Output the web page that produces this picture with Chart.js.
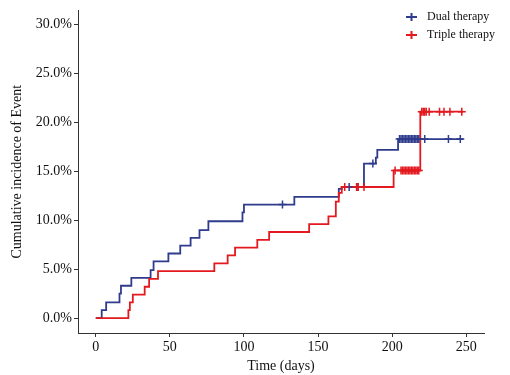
<!DOCTYPE html>
<html>
<head>
<meta charset="utf-8">
<script src="https://cdn.jsdelivr.net/npm/chart.js@4/dist/chart.umd.min.js"></script>
<style>
  html, body { margin: 0; padding: 0; background: #fff; }
  #wrap { width: 510px; height: 375px; position: relative; }
</style>
</head>
<body>
<div id="wrap"><canvas id="incChart"></canvas></div>
<script>
// event times (days) and cumulative incidence (%) for each arm
const dualTimes = [0, 4, 7, 16, 17, 24, 37, 39, 49, 57, 64, 70, 76, 99, 100, 134, 164, 166, 181, 189, 190, 204, 248];
const dualCum   = [0, 0.8, 1.6, 2.5, 3.3, 4.1, 4.9, 5.8, 6.6, 7.4, 8.2, 9.0, 9.9, 10.8, 11.6, 12.4, 13.2, 13.4, 15.8, 16.4, 17.2, 18.3, 18.3];
const dualCensor = [126, 171, 177, 187, 205, 206, 207, 208, 209, 210, 211, 212, 213, 214, 215, 216, 217, 218, 222, 238, 246];

const tripleTimes = [0, 22, 23, 25, 33, 36, 42, 80, 89, 94, 109, 117, 144, 157, 162, 164, 166, 201, 219, 248];
const tripleCum   = [0, 0.8, 1.6, 2.4, 3.2, 4.0, 4.8, 5.6, 6.4, 7.2, 8.0, 8.8, 9.6, 10.4, 11.9, 12.8, 13.4, 15.1, 21.1, 21.1];
const tripleCensor = [168, 176, 177, 181, 202, 206, 207, 208, 209, 210, 211, 212, 213, 214, 215, 216, 217, 218, 220, 221, 222, 223, 225, 232, 235, 239, 247];

const xTicks = [0, 50, 100, 150, 200, 250];
const yTicks = [0, 5, 10, 15, 20, 25, 30];

const BLUE = '#2f3b8c';
const RED = '#e3191f';
const FONT = '"Liberation Serif", "Times New Roman", serif';

// 계단 곡선 좌표
function stepPoints(times, cum) {
    return times.map((t, i) => ({ x: t, y: cum[i] }));
}

// censor 시점의 곡선 높이
function censorPoints(times, cum, censor) {
    return censor.map(t => {
        let k = 0;
        for (let i = 0; i < times.length; i++) if (times[i] <= t) k = i;
        return { x: t, y: cum[k] };
    });
}

// 오른쪽 위 범례 (선 + 십자)
const crossLegend = {
    id: 'crossLegend',
    afterDraw(chart) {
        const ctx = chart.ctx;
        const items = [
            { label: 'Dual therapy', color: BLUE, y: 17 },
            { label: 'Triple therapy', color: RED, y: 35 },
        ];
        ctx.save();
        items.forEach(it => {
            ctx.strokeStyle = it.color;
            ctx.lineWidth = 2;
            ctx.beginPath();
            ctx.moveTo(406, it.y);
            ctx.lineTo(417, it.y);
            ctx.moveTo(411.5, it.y - 4);
            ctx.lineTo(411.5, it.y + 4);
            ctx.stroke();
            ctx.fillStyle = '#111';
            ctx.font = '12px ' + FONT;
            ctx.textBaseline = 'middle';
            ctx.fillText(it.label, 427, it.y);
        });
        ctx.restore();
    }
};

const ctx = document.getElementById('incChart').getContext('2d');

new Chart(ctx, {
    type: 'line',
    data: {
        datasets: [
            {
                label: 'Dual therapy censored',
                data: censorPoints(dualTimes, dualCum, dualCensor),
                showLine: false,
                pointStyle: 'cross',
                pointRadius: 4,
                pointBorderWidth: 1.5,
                borderColor: BLUE,
                order: 1,
            },
            {
                label: 'Triple therapy censored',
                data: censorPoints(tripleTimes, tripleCum, tripleCensor),
                showLine: false,
                pointStyle: 'cross',
                pointRadius: 4,
                pointBorderWidth: 1.5,
                borderColor: RED,
                order: 0,
            },
            {
                label: 'Triple therapy',
                data: stepPoints(tripleTimes, tripleCum),
                stepped: true,
                borderColor: RED,
                borderWidth: 1.8,
                pointRadius: 0,
                fill: false,
                order: 2,
            },
            {
                label: 'Dual therapy',
                data: stepPoints(dualTimes, dualCum),
                stepped: true,
                borderColor: BLUE,
                borderWidth: 1.8,
                pointRadius: 0,
                fill: false,
                order: 3,
            },
        ],
    },
    options: {
        responsive: true,
        maintainAspectRatio: false,
        animation: false,
        layout: { padding: { top: 10, right: 26, left: 0, bottom: 0 } },
        plugins: {
            legend: { display: false },
            tooltip: { enabled: false },
        },
        scales: {
            x: {
                type: 'linear',
                min: -12,
                max: 262,
                afterBuildTicks: scale => { scale.ticks = xTicks.map(v => ({ value: v })); },
                afterFit: scale => { scale.height = 42; },
                grid: { drawOnChartArea: false, drawTicks: true, tickLength: 4, color: '#333' },
                border: { display: true, color: '#333', width: 1 },
                ticks: { color: '#111', font: { family: FONT, size: 14 }, padding: 2, maxRotation: 0 },
                title: { display: true, text: 'Time (days)', color: '#111', font: { family: FONT, size: 14 }, padding: 0 },
            },
            y: {
                type: 'linear',
                min: -1.53,
                max: 31.46,
                afterBuildTicks: scale => { scale.ticks = yTicks.map(v => ({ value: v })); },
                afterFit: scale => { scale.width = 78; },
                grid: { drawOnChartArea: false, drawTicks: true, tickLength: 4, color: '#333' },
                border: { display: true, color: '#333', width: 1 },
                ticks: {
                    color: '#111',
                    font: { family: FONT, size: 14 },
                    padding: 2,
                    callback: v => v.toFixed(1) + '%',
                },
                title: { display: true, text: 'Cumulative incidence of Event', color: '#111', font: { family: FONT, size: 14 }, padding: { top: 9, bottom: 0 } },
            },
        },
    },
    plugins: [crossLegend],
});
</script>
</body>
</html>
